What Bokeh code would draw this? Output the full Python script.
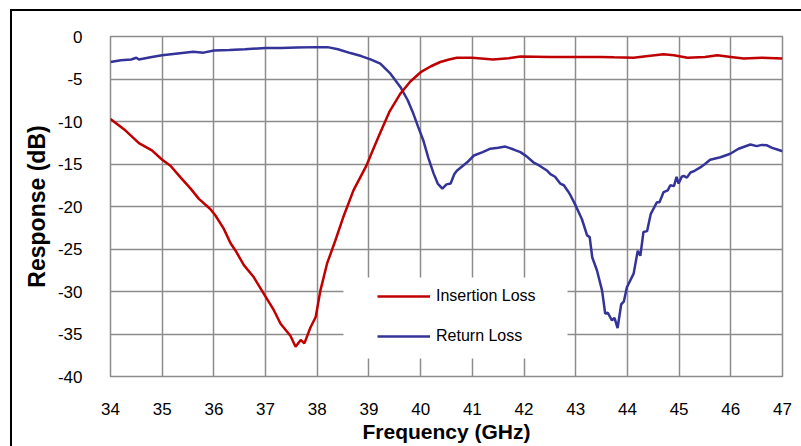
from bokeh.plotting import figure
from bokeh.models import (Range1d, FixedTicker, Legend, LegendItem, BoxAnnotation,
                          ColumnDataSource, CustomJSTickFormatter)
from bokeh.embed import file_html
from bokeh.resources import INLINE

# ---------------- data ----------------
x_ticks = [34, 35, 36, 37, 38, 39, 40, 41, 42, 43, 44, 45, 46, 47]
y_ticks = [-40, -35, -30, -25, -20, -15, -10, -5, 0]

il_freq = [34.0, 34.26, 34.55, 34.8, 35.0, 35.16, 35.35, 35.55, 35.71, 35.93,
           36.03, 36.19, 36.32, 36.42, 36.58, 36.77, 36.97, 37.16, 37.29, 37.48,
           37.58, 37.68, 37.75, 37.87, 37.97, 38.06, 38.19, 38.35, 38.5, 38.7,
           38.95, 39.1, 39.22, 39.4, 39.61, 39.8, 40.0, 40.2, 40.38, 40.55,
           40.7, 41.0, 41.4, 41.7, 41.93, 42.5, 43.0, 43.48, 43.74, 44.12,
           44.4, 44.7, 44.9, 45.16, 45.5, 45.74, 46.0, 46.25, 46.6, 47.0]
il_db = [-9.7, -10.9, -12.55, -13.4, -14.5, -15.2, -16.55, -17.9, -19.1, -20.3,
         -21.06, -22.6, -24.3, -25.2, -26.9, -28.3, -30.3, -32.2, -33.8, -35.2,
         -36.5, -35.7, -36.1, -34.2, -33.0, -29.9, -26.7, -24.0, -21.3, -18.1,
         -15.2, -13.0, -11.3, -8.8, -6.7, -5.3, -4.2, -3.5, -3.0, -2.7,
         -2.5, -2.5, -2.7, -2.55, -2.35, -2.4, -2.4, -2.4, -2.45, -2.5,
         -2.3, -2.1, -2.2, -2.5, -2.4, -2.2, -2.4, -2.6, -2.5, -2.6]

rl_freq = [34.0, 34.2, 34.4, 34.5, 34.55, 34.8, 35.0, 35.3, 35.6, 35.8,
           36.0, 36.3, 36.6, 37.0, 37.3, 37.6, 38.0, 38.2, 38.4, 38.64,
           38.85, 39.03, 39.22, 39.42, 39.61, 39.75, 39.86, 39.95, 40.05, 40.15,
           40.25, 40.33, 40.42, 40.5, 40.58, 40.65, 40.7, 40.8, 40.9, 41.03,
           41.2, 41.35, 41.5, 41.64, 41.8, 41.93, 42.05, 42.18, 42.3, 42.45,
           42.51, 42.6, 42.7, 42.77, 42.85, 42.9, 43.0, 43.12, 43.22, 43.27,
           43.32, 43.41, 43.51, 43.57, 43.62, 43.7, 43.75, 43.81, 43.88, 43.93,
           43.99, 44.12, 44.2, 44.25, 44.31, 44.38, 44.45, 44.57, 44.62, 44.7,
           44.78, 44.83, 44.9, 44.95, 44.99, 45.05, 45.09, 45.15, 45.22, 45.3,
           45.41, 45.5, 45.6, 45.8, 45.99, 46.15, 46.38, 46.5, 46.6, 46.7,
           46.8, 46.9, 47.0]
rl_db = [-3.0, -2.8, -2.7, -2.5, -2.7, -2.4, -2.2, -2.0, -1.8, -1.9,
         -1.65, -1.6, -1.5, -1.35, -1.35, -1.3, -1.25, -1.25, -1.5, -1.95,
         -2.3, -2.7, -3.2, -4.4, -5.96, -7.5, -9.1, -10.6, -12.2, -14.3,
         -16.1, -17.3, -17.9, -17.4, -17.3, -16.2, -15.8, -15.3, -14.8, -14.0,
         -13.6, -13.2, -13.1, -12.95, -13.3, -13.6, -14.1, -14.8, -15.2, -15.8,
         -16.2, -16.5, -17.3, -17.5, -18.2, -18.7, -19.9, -21.5, -23.4, -23.6,
         -26.0, -27.5, -29.9, -32.6, -32.5, -33.4, -33.1, -34.3, -31.5, -31.2,
         -29.5, -27.9, -25.2, -25.8, -23.0, -22.9, -20.9, -19.5, -19.5, -18.3,
         -18.1, -17.5, -17.6, -16.5, -17.3, -16.5, -16.4, -16.6, -16.0, -15.8,
         -15.4, -15.0, -14.5, -14.2, -13.8, -13.2, -12.7, -12.9, -12.75, -12.8,
         -13.1, -13.3, -13.5]

series_names = ["Insertion Loss", "Return Loss"]
series_colors = ["#C00000", "#333399"]

# ---------------- figure ----------------
FONT = "Liberation Sans"
GRID = "#8c8c8c"

p = figure(width=801, height=446, output_backend="svg", toolbar_location=None,
           x_range=Range1d(34, 47), y_range=Range1d(-40, 0),
           min_border_left=110, min_border_right=19, min_border_top=36,
           min_border_bottom=70)
p.background_fill_color = "white"
p.border_fill_color = None
# outer chart frame: left and top edges (right/bottom lie outside the window)
p.styles = {"background": "linear-gradient(#000,#000) 10px 9px / 2px 100% no-repeat, "
                          "linear-gradient(#000,#000) 10px 9px / 100% 2px no-repeat, #ffffff"}
p.outline_line_color = GRID
p.outline_line_width = 1.5

p.xaxis.ticker = FixedTicker(ticks=x_ticks)
p.yaxis.ticker = FixedTicker(ticks=y_ticks)
fmt = CustomJSTickFormatter(code="return String(tick);")
for ax in (p.xaxis[0], p.yaxis[0]):
    ax.formatter = fmt
    ax.axis_line_color = None
    ax.major_tick_line_color = None
    ax.minor_tick_line_color = None
    ax.major_label_text_font = FONT
    ax.major_label_text_font_size = "17px"
    ax.major_label_text_color = "black"
    ax.axis_label_text_font = FONT
    ax.axis_label_text_font_style = "bold"
    ax.axis_label_text_color = "black"
p.xaxis.axis_label = "Frequency (GHz)"
p.yaxis.axis_label = "Response (dB)"
p.xaxis.axis_label_text_font_size = "21px"
p.yaxis.axis_label_text_font_size = "23px"
p.xaxis.major_label_standoff = 20
p.xaxis.axis_label_standoff = 2
p.yaxis.major_label_standoff = 22
p.yaxis.axis_label_standoff = 5

for g in (p.xgrid[0], p.ygrid[0]):
    g.grid_line_color = GRID
    g.grid_line_width = 1.5

src_il = ColumnDataSource(dict(x=il_freq, y=il_db))
src_rl = ColumnDataSource(dict(x=rl_freq, y=rl_db))
r_rl = p.line("x", "y", source=src_rl, line_color=series_colors[1], line_width=2.5)
r_il = p.line("x", "y", source=src_il, line_color=series_colors[0], line_width=2.5)

# white backdrop of the legend (frame-relative screen units)
legend_bg = BoxAnnotation(left=233, right=457, bottom=18, top=99,
                          left_units="screen", right_units="screen",
                          bottom_units="screen", top_units="screen",
                          fill_color="white", fill_alpha=1.0, line_alpha=0)
p.add_layout(legend_bg)

legend = Legend(items=[LegendItem(label=series_names[0], renderers=[r_il]),
                       LegendItem(label=series_names[1], renderers=[r_rl])],
                location=(267, 30), padding=0, margin=0, spacing=20,
                glyph_width=53, glyph_height=20, label_height=20,
                label_standoff=6, background_fill_alpha=0, border_line_alpha=0,
                label_text_font=FONT, label_text_font_size="16px",
                label_text_color="black")
p.add_layout(legend)

open("out.html", "w").write(file_html(p, INLINE))
